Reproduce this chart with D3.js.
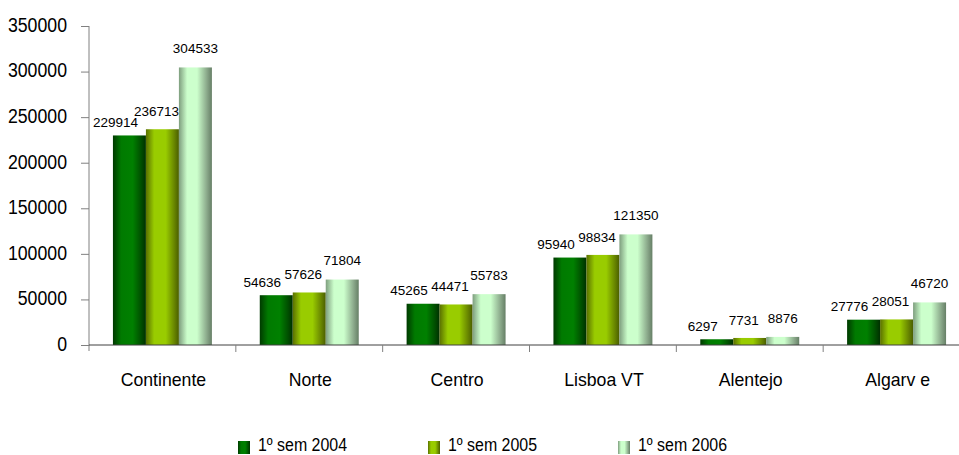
<!DOCTYPE html>
<html><head><meta charset="utf-8">
<script src="https://cdn.jsdelivr.net/npm/d3@7/dist/d3.min.js"></script>
<style>body{margin:0;background:#fff}svg{display:block;font-family:"Liberation Sans",Arial,sans-serif}</style>
</head><body><svg id="c" width="959" height="455"></svg>
<script>
const categories = ["Continente","Norte","Centro","Lisboa VT","Alentejo","Algarv e"];
const seriesNames = ["1º sem 2004","1º sem 2005","1º sem 2006"];
const s2004 = [229914,54636,45265,95940,6297,27776];
const s2005 = [236713,57626,44471,98834,7731,28051];
const s2006 = [304533,71804,55783,121350,8876,46720];
const yTicks = [0,50000,100000,150000,200000,250000,300000,350000];
const seriesValues = [s2004,s2005,s2006];

(function(){
const svg = d3.select("#c");
const mLeft = 89, mRight = 970, mTop = 26, mBottom = 345;
const y = d3.scaleLinear().domain([0,350000]).range([mBottom, mTop]);
const x0 = d3.scaleBand().domain(categories).range([mLeft, mRight]);
const bw = x0.bandwidth();
const x1 = d3.scaleBand().domain(seriesNames).range([bw*0.163, bw*0.837]);

// horizontally condense text while keeping its anchor point (0 start, 0.5 middle, 1 end)
function condense(sel, f, frac){
  sel.each(function(){
    const el = d3.select(this);
    const L = this.getComputedTextLength();
    const ax = +el.attr("x") || 0;
    el.attr("text-anchor","start").attr("x", ax - frac*L*f)
      .attr("textLength", L*f).attr("lengthAdjust","spacingAndGlyphs");
  });
}

const grads = [
  [["0%","#003a00"],["25%","#007a00"],["60%","#008000"],["85%","#005000"],["100%","#003000"]],
  [["0%","#5a7000"],["25%","#99cc00"],["60%","#99cc00"],["85%","#6a8800"],["100%","#4a5e00"]],
  [["0%","#7e9e7e"],["25%","#ccffcc"],["55%","#ccffcc"],["85%","#8aa88a"],["100%","#667f66"]]
];
const defs = svg.append("defs");
grads.forEach((g,i)=>{
  const lg = defs.append("linearGradient").attr("id","g"+i).attr("x1","0").attr("x2","1").attr("y1","0").attr("y2","0");
  g.forEach(s=>lg.append("stop").attr("offset",s[0]).attr("stop-color",s[1]));
});

// y axis
const yAxis = d3.axisLeft(y).tickValues(yTicks).tickSize(8).tickPadding(14).tickFormat(d3.format("d"));
const ya = svg.append("g").attr("transform",`translate(${mLeft},0)`).call(yAxis);
ya.select(".domain").remove();
ya.append("line").attr("x1",0).attr("x2",0).attr("y1",mTop).attr("y2",mBottom+6).attr("stroke","#808080");
ya.selectAll(".tick line").attr("stroke","#808080");
const yt = ya.selectAll(".tick text").attr("font-size","20px").attr("fill","#000")
  .attr("font-family","Liberation Sans, Arial, sans-serif").attr("dy","0.27em");
condense(yt, 0.885, 1);

// bars
const labelDx = [-14,-6,0], labelDy = [-13,-18,-19];
seriesValues.forEach((vals,si)=>{
  const g = svg.append("g");
  g.selectAll("rect").data(vals).join("rect")
    .attr("x",(d,i)=>x0(categories[i])+x1(seriesNames[si]))
    .attr("width",x1.bandwidth())
    .attr("y",d=>y(d)).attr("height",d=>mBottom-y(d))
    .attr("fill",`url(#g${si})`);
  g.selectAll("text").data(vals).join("text")
    .attr("x",(d,i)=>x0(categories[i])+x1(seriesNames[si])+x1.bandwidth()/2+labelDx[si])
    .attr("y",d=>y(d)+labelDy[si])
    .attr("dy","0.35em")
    .attr("text-anchor","middle").attr("font-size","13.5px").attr("fill","#000")
    .text(d=>d);
});

// x axis
const xa = svg.append("g").attr("transform",`translate(0,${mBottom})`);
xa.append("line").attr("x1",mLeft).attr("x2",959).attr("y1",0).attr("y2",0).attr("stroke","#404040");
xa.selectAll("line.t").data(categories.slice(1)).join("line").attr("class","t")
  .attr("x1",d=>x0(d)).attr("x2",d=>x0(d)).attr("y1",0).attr("y2",7).attr("stroke","#808080");
const xt = xa.selectAll("text").data(categories).join("text")
  .attr("x",d=>x0(d)+bw/2+1).attr("y",41).attr("text-anchor","middle")
  .attr("font-size","18.5px").attr("fill","#000").text(d=>d);
condense(xt, 0.955, 0.5);

// legend
const lgd = svg.append("g");
seriesNames.forEach((n,i)=>{
  const lx = 238 + i*190;
  lgd.append("rect").attr("x",lx).attr("y",441).attr("width",12).attr("height",13).attr("fill",`url(#g${i})`);
  const t = lgd.append("text").attr("x",lx+20).attr("y",451).attr("font-size","18px").attr("fill","#000").text(n);
  condense(t, 0.885, 0);
});
})();
</script></body></html>
